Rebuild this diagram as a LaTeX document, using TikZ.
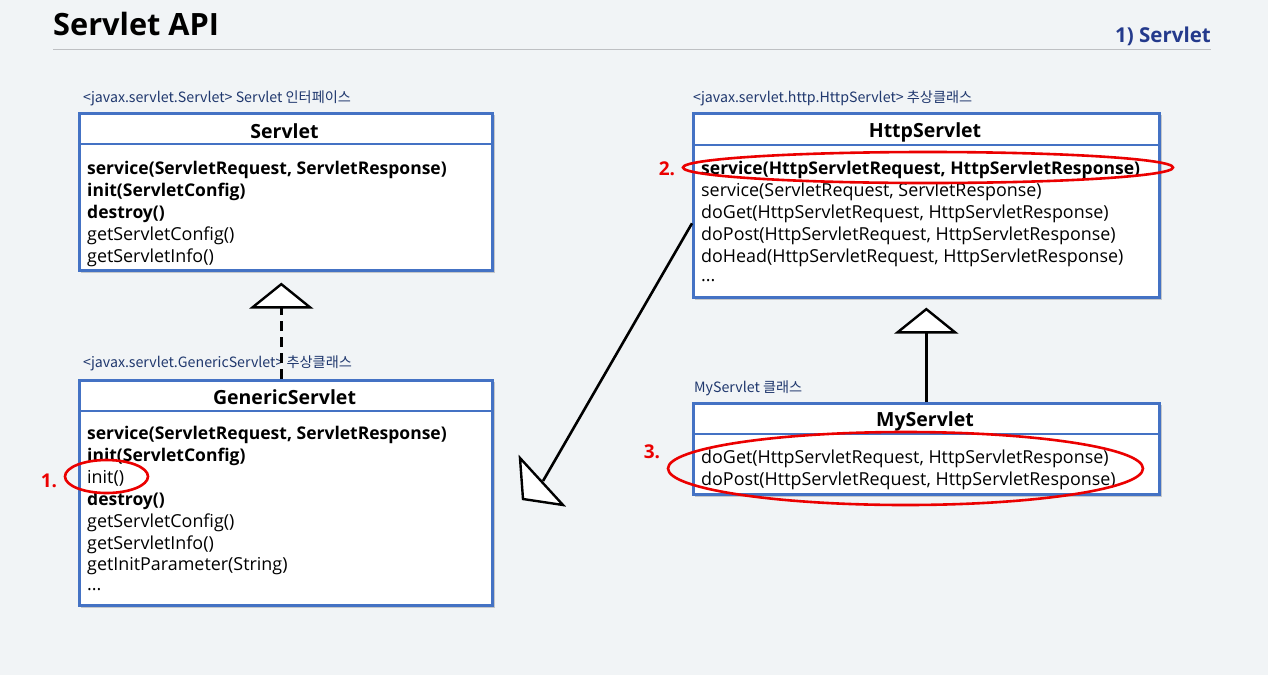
\documentclass[tikz,border=0pt]{standalone}
\usepackage{fontspec}
\setmainfont{Open Sans}
\newfontfamily\kr{Noto Sans CJK KR}
\usetikzlibrary{arrows.meta,shapes.geometric}
\definecolor{bg}{RGB}{241,244,246}
\definecolor{umlblue}{RGB}{68,114,196}
\definecolor{navy}{RGB}{32,56,110}
\definecolor{titleblue}{RGB}{36,58,140}
\definecolor{hlred}{RGB}{235,0,0}
\definecolor{rulegray}{RGB}{190,192,195}
\begin{document}
\begin{tikzpicture}[x=1pt,y=-1pt,
  classbox/.style={draw=umlblue, line width=2.6pt, fill=white, inner sep=0pt, anchor=north west},
  shadowbox/.style={fill=black, opacity=0.18},
  divider/.style={draw=umlblue, line width=2.6pt},
  member/.style={anchor=west, inner sep=0pt, yshift=-2.5pt, font=\fontsize{17.9}{20}\selectfont},
  bmember/.style={member, font=\fontsize{17.5}{20}\selectfont\bfseries},
  cname/.style={inner sep=0pt, yshift=-2pt, font=\fontsize{19.5}{22}\selectfont\bfseries},
  stereo/.style={anchor=west, inner sep=0pt, yshift=-1pt, text=navy, font=\kr\fontsize{14.2}{16}\selectfont},
  hl/.style={draw=hlred, line width=2.6pt, ellipse, inner sep=0pt},
  hlnum/.style={text=hlred, inner sep=0pt, font=\fontsize{19}{22}\selectfont\bfseries},
  inherit/.style={line width=2.6pt, -{Triangle[fill=white, length=26pt, width=64pt, line width=2.4pt]}}
]
\fill[bg] (0,0) rectangle (1268,675);
\useasboundingbox (0,0) rectangle (1268,675);

% title
\node[anchor=west, inner sep=0pt, font=\fontsize{30.7}{36}\selectfont\bfseries] (title) at (53,24) {Servlet API};
\node[anchor=east, inner sep=0pt, text=titleblue, font=\fontsize{20.5}{24}\selectfont\bfseries] (sub) at (1211,36) {1) Servlet};
\draw[rulegray, line width=1pt] (title.south west |- 0,49) coordinate (rl) -- (sub.east |- 0,49) coordinate (rr);

% ---------- Servlet ----------
\fill[shadowbox] (81,115) rectangle (495,273);
\node[classbox, minimum width=413pt, minimum height=157pt] (servlet) at (78,112) {};
\draw[divider] (78,144) -- (491,144);
\node[cname] (servletname) at (284.5,129) {Servlet};
\node[stereo] (servletst) at (83,97) {<javax.servlet.Servlet> Servlet 인터페이스};
\node[bmember] (s1) at (87,167) {service(ServletRequest, ServletResponse)};
\node[bmember] (s2) at (87,189) {init(ServletConfig)};
\node[bmember] (s3) at (87,211) {destroy()};
\node[member] (s4) at (87,233) {getServletConfig()};
\node[member] (s5) at (87,255) {getServletInfo()};

% ---------- GenericServlet ----------
\fill[shadowbox] (81,382) rectangle (495,608);
\node[classbox, minimum width=413pt, minimum height=225pt] (generic) at (78,379) {};
\draw[divider] (78,411) -- (491,411);
\node[cname] (genericname) at (284.5,395) {GenericServlet};
\node[stereo] (genericst) at (83,362) {<javax.servlet.GenericServlet> 추상클래스};
\node[bmember] (g1) at (87,432) {service(ServletRequest, ServletResponse)};
\node[bmember] (g2) at (87,454) {init(ServletConfig)};
\node[member] (g3) at (87,476) {init()};
\node[bmember] (g4) at (87,498) {destroy()};
\node[member] (g5) at (87,520) {getServletConfig()};
\node[member] (g6) at (87,542) {getServletInfo()};
\node[member] (g7) at (87,564) {getInitParameter(String)};
\node[member] (g8) at (87,587) {...};

% ---------- HttpServlet ----------
\fill[shadowbox] (695,115) rectangle (1162,300);
\node[classbox, minimum width=466pt, minimum height=184pt] (http) at (692,112) {};
\draw[divider] (692,145) -- (1158,145);
\node[cname] (httpname) at (925,130) {HttpServlet};
\node[stereo] (httpst) at (693,97) {<javax.servlet.http.HttpServlet> 추상클래스};
\node[bmember] (h1) at (701,167) {service(HttpServletRequest, HttpServletResponse)};
\node[member] (h2) at (701,189) {service(ServletRequest, ServletResponse)};
\node[member] (h3) at (701,211) {doGet(HttpServletRequest, HttpServletResponse)};
\node[member] (h4) at (701,233) {doPost(HttpServletRequest, HttpServletResponse)};
\node[member] (h5) at (701,255) {doHead(HttpServletRequest, HttpServletResponse)};
\node[member] (h6) at (701,278) {...};

% ---------- MyServlet ----------
\fill[shadowbox] (695,405) rectangle (1162,497);
\node[classbox, minimum width=466pt, minimum height=91pt] (my) at (692,402) {};
\draw[divider] (692,434) -- (1158,434);
\node[cname] (myname) at (925,419) {MyServlet};
\node[stereo] (myst) at (694,387) {MyServlet 클래스};
\node[member] (m1) at (701,456) {doGet(HttpServletRequest, HttpServletResponse)};
\node[member] (m2) at (701,478) {doPost(HttpServletRequest, HttpServletResponse)};

% ---------- connectors ----------
\draw[inherit, dashed, dash pattern=on 10pt off 6pt, shorten >=11pt] ([xshift=-4.5pt]generic.north) -- ([xshift=-4.5pt]servlet.south);
\draw[inherit, shorten >=9pt] (my.north) -- (http.south);

\coordinate (tipbase) at (543,481);
\coordinate (tipa) at (520,458);
\coordinate (tipb) at (523,499);
\coordinate (tipc) at (563,505);
\draw[line width=2.6pt] ([yshift=-18pt]http.west) -- (tipbase);
\draw[line width=2.4pt, fill=white, line join=miter] (tipa) -- (tipb) -- (tipc) -- cycle;

% ---------- highlights ----------
\node[hl, minimum width=83pt, minimum height=33pt] (e1) at (106.5,476.5) {};
\node[hlnum] (n1) at (49,481) {1.};
\node[hl, minimum width=490pt, minimum height=31pt] (e2) at (928,167.5) {};
\node[hlnum] (n2) at (667,169) {2.};
\node[hl, minimum width=475pt, minimum height=73pt] (e3) at (905.5,468.5) {};
\node[hlnum] (n3) at (652,452) {3.};
\end{tikzpicture}
\end{document}
